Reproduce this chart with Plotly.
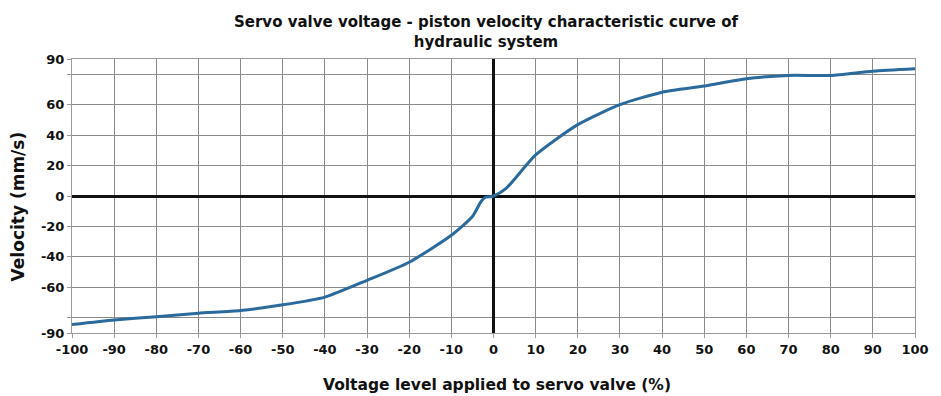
import plotly.graph_objects as go

# Servo valve voltage (%) vs piston velocity (mm/s)
voltage = [-100, -90, -80, -70, -60, -50, -40, -30, -20, -10, -5, -3, -2, 0,
           3, 10, 20, 30, 40, 50, 60, 70, 80, 90, 100]
velocity = [-84.5, -81.5, -79.3, -77, -75.2, -71.5, -66.4, -55.4, -43.5, -25.8, -13.5, -3.8, -1, 0,
            5, 27, 46.9, 60, 68.2, 72.2, 77, 79.2, 79.2, 82, 83.6]

x_ticks = list(range(-100, 101, 10))
y_ticks = [-90, -80, -60, -40, -20, 0, 20, 40, 60, 80, 90]
y_text = ["-90", "", "-60", "-40", "-20", "0", "20", "40", "60", "", "90"]

title_text = "Servo valve voltage - piston velocity characteristic curve of<br>hydraulic system"
x_title = "Voltage level applied to servo valve (%)"
y_title = "Velocity (mm/s)"

font_family = "DejaVu Sans, Verdana, sans-serif"
ink = "#111"

fig = go.Figure()
fig.add_trace(go.Scatter(
    x=voltage, y=velocity, mode="lines",
    line=dict(color="#2a6a9c", width=3, shape="spline", smoothing=0.6),
    showlegend=False, hoverinfo="x+y",
))

fig.update_layout(
    width=941, height=396,
    margin=dict(l=72, r=20, t=59, b=63),
    paper_bgcolor="white", plot_bgcolor="white",
    font=dict(family=font_family, color=ink, size=13),
    annotations=[
        dict(text=f"<b>{title_text}</b>", xref="paper", yref="paper",
             x=0.492, y=1.10, xanchor="center", yanchor="middle", showarrow=False,
             font=dict(size=15, family=font_family, color=ink)),
        dict(text=f"<b>{x_title}</b>", xref="paper", yref="paper",
             x=0.504, y=-0.19, xanchor="center", yanchor="middle", showarrow=False,
             font=dict(size=15.5, family=font_family, color=ink)),
        dict(text=f"<b>{y_title}</b>", xref="paper", yref="paper", textangle=-90,
             x=-0.0636, y=0.4635, xanchor="center", yanchor="middle", showarrow=False,
             font=dict(size=17, family=font_family, color=ink)),
    ],
)

fig.update_xaxes(
    range=[-100, 100], tickvals=x_ticks, ticktext=[f"<b>{v}</b>" for v in x_ticks],
    showgrid=True, gridcolor="#8a8a8a", gridwidth=1,
    zeroline=True, zerolinecolor=ink, zerolinewidth=2.5,
    showline=True, linecolor="#9a9a9a", linewidth=1, mirror=True,
    ticks="outside", ticklen=4, tickcolor="#9a9a9a",
    tickfont=dict(size=13, family=font_family, color=ink),
)
fig.update_yaxes(
    range=[-90, 90], tickvals=y_ticks, ticktext=[f"<b>{t}</b>" if t else "" for t in y_text],
    showgrid=True, gridcolor="#8a8a8a", gridwidth=1,
    zeroline=True, zerolinecolor=ink, zerolinewidth=2.5,
    showline=True, linecolor="#9a9a9a", linewidth=1, mirror=True,
    ticks="outside", ticklen=4, tickcolor="#9a9a9a",
    tickfont=dict(size=13, family=font_family, color=ink),
)

fig.write_html("out.html")
